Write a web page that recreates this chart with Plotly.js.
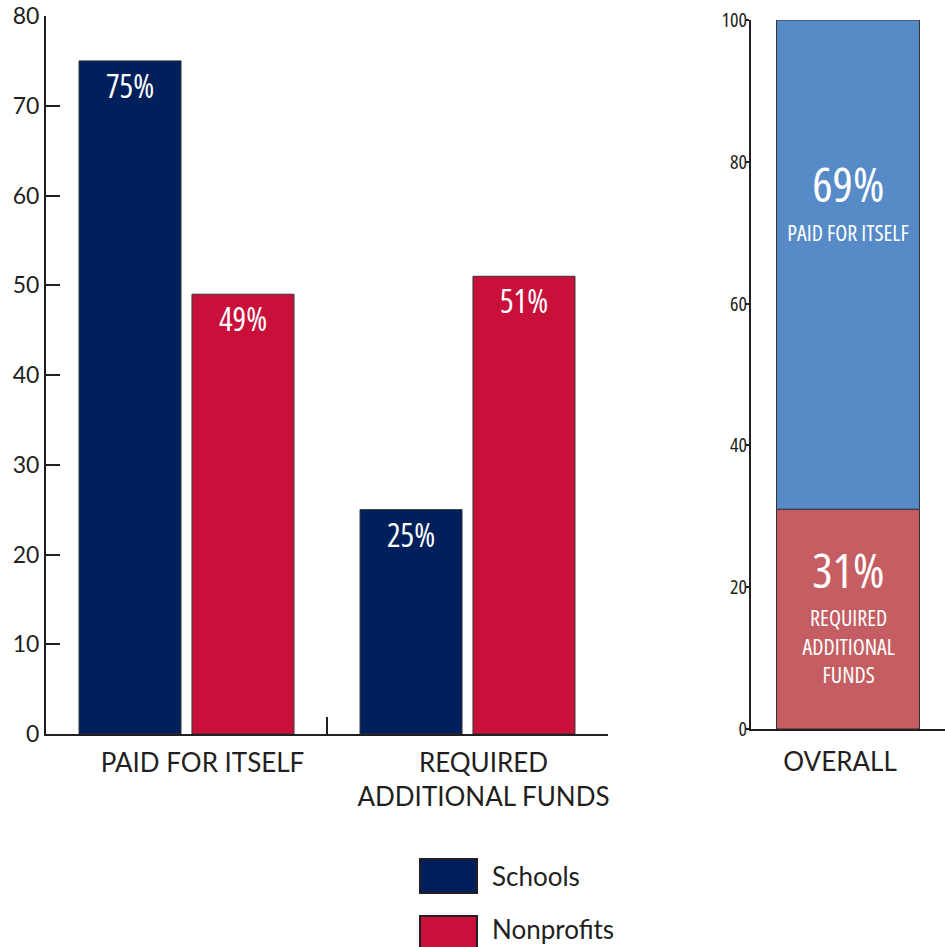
<!DOCTYPE html>
<html>
<head>
<meta charset="utf-8">
<script src="https://cdn.plot.ly/plotly-3.0.1.min.js"></script>
<style>
  html, body { margin: 0; padding: 0; background: #fff; }
  #chart { width: 945px; height: 947px; }
  /* condensed face for the in-bar labels and the right-hand tick labels */
  #chart text[style*="Open Sans"] { font-stretch: 75%; }
</style>
</head>
<body>
<div id="chart"></div>
<script>
// ---- data ----
const categories = ["PAID FOR ITSELF", "REQUIRED<br>ADDITIONAL FUNDS"];
const seriesNames = ["Schools", "Nonprofits"];
const schoolsValues = [75, 25];
const nonprofitsValues = [49, 51];
const overallCategory = ["OVERALL"];
const overallRequired = [31];
const overallPaid = [69];
const overallLabels = ["REQUIRED<br>ADDITIONAL<br>FUNDS", "PAID FOR ITSELF"];
const leftTicks = [0, 10, 20, 30, 40, 50, 60, 70, 80];
const rightTicks = [0, 20, 40, 60, 80, 100];

// ---- styles ----
const INK = "#231F20";
const NAVY = "#00205B";
const CRIMSON = "#C8103A";
const BLUE = "#568BC7";
const ROSE = "#C45E62";
const MAIN_FONT = "Lato, 'Noto Sans', sans-serif";
const NARROW_FONT = "'Open Sans', 'Liberation Sans Narrow', Roboto, sans-serif";
const seriesColors = [NAVY, CRIMSON];
const W = 945, H = 947;

const pct = v => v + "%";

const traces = [
  {
    type: "bar", name: seriesNames[0], x: categories, y: schoolsValues,
    xaxis: "x", yaxis: "y",
    marker: { color: seriesColors[0], line: { color: "#333", width: 1 } },
    text: schoolsValues.map(pct), textposition: "inside", insidetextanchor: "end",
    textangle: 0, textfont: { color: "#fff", family: NARROW_FONT, size: 32 },
    hoverinfo: "skip", showlegend: false
  },
  {
    type: "bar", name: seriesNames[1], x: categories, y: nonprofitsValues,
    xaxis: "x", yaxis: "y",
    marker: { color: seriesColors[1], line: { color: "#333", width: 1 } },
    text: nonprofitsValues.map(pct), textposition: "inside", insidetextanchor: "end",
    textangle: 0, textfont: { color: "#fff", family: NARROW_FONT, size: 32 },
    hoverinfo: "skip", showlegend: false
  },
  {
    type: "bar", name: "Required", x: overallCategory, y: overallRequired, base: [0],
    xaxis: "x2", yaxis: "y2", width: 0.737, offset: -0.3685,
    marker: { color: ROSE, line: { color: "#333", width: 1 } },
    hoverinfo: "skip", showlegend: false
  },
  {
    type: "bar", name: "Paid", x: overallCategory, y: overallPaid, base: overallRequired,
    xaxis: "x2", yaxis: "y2", width: 0.737, offset: -0.3685,
    marker: { color: BLUE, line: { color: "#333", width: 1 } },
    hoverinfo: "skip", showlegend: false
  }
];

const annotations = [
  { xref: "x2", yref: "y2", x: overallCategory[0], y: overallRequired[0] + overallPaid[0] * 0.665,
    text: pct(overallPaid[0]), showarrow: false,
    font: { family: NARROW_FONT, size: 48, color: "#fff" } },
  { xref: "x2", yref: "y2", x: overallCategory[0], y: overallRequired[0] + overallPaid[0] * 0.566,
    text: overallLabels[1], showarrow: false,
    font: { family: NARROW_FONT, size: 22, color: "#fff" } },
  { xref: "x2", yref: "y2", x: overallCategory[0], y: overallRequired[0] * 0.725,
    text: pct(overallRequired[0]), showarrow: false,
    font: { family: NARROW_FONT, size: 48, color: "#fff" } },
  { xref: "x2", yref: "y2", x: overallCategory[0], y: overallRequired[0] * 0.38,
    text: overallLabels[0], showarrow: false,
    font: { family: NARROW_FONT, size: 22, color: "#fff" } }
];

// custom legend (large swatches)
const shapes = [];
const legendTops = [859, 916];
const legendTextY = [876, 929];
seriesNames.forEach((name, i) => {
  const top = legendTops[i];
  shapes.push({
    type: "rect", xref: "paper", yref: "paper",
    x0: 420 / W, x1: 477 / W, y0: 1 - (top + 34) / H, y1: 1 - top / H,
    fillcolor: seriesColors[i], line: { color: INK, width: 2 }
  });
  annotations.push({
    xref: "paper", yref: "paper", x: 490 / W, y: 1 - legendTextY[i] / H,
    xanchor: "left", yanchor: "middle", text: name, showarrow: false,
    font: { family: MAIN_FONT, size: 26, color: INK }
  });
});

const layout = {
  width: W, height: H,
  margin: { l: 0, r: 0, t: 0, b: 0 },
  paper_bgcolor: "#fff", plot_bgcolor: "rgba(0,0,0,0)",
  barmode: "group", bargap: 0.196, bargroupgap: 0.097,
  showlegend: false,
  font: { family: MAIN_FONT, color: INK },
  xaxis: {
    domain: [46 / W, 608 / W], type: "category", range: [-0.5, 1.5],
    showline: true, linecolor: INK, linewidth: 2, showgrid: false, zeroline: false,
    tickson: "boundaries", ticks: "inside", ticklen: 17, tickwidth: 2, tickcolor: INK,
    tickfont: { family: MAIN_FONT, size: 26, color: INK },
    ticklabelshift: 16, ticklabelstandoff: 5, fixedrange: true
  },
  yaxis: {
    domain: [1 - 734 / H, 1 - 16 / H], range: [0, 80], tickvals: leftTicks,
    showline: true, linecolor: INK, linewidth: 2, showgrid: false, zeroline: false,
    ticks: "inside", ticklen: 14, tickwidth: 2, tickcolor: INK,
    tickfont: { family: MAIN_FONT, size: 23, color: INK }, fixedrange: true
  },
  xaxis2: {
    domain: [751 / W, 1], type: "category", range: [-0.5, 0.5], anchor: "y2",
    showline: true, linecolor: INK, linewidth: 2, showgrid: false, zeroline: false,
    ticks: "", tickfont: { family: MAIN_FONT, size: 26, color: INK },
    ticklabelshift: -8, ticklabelstandoff: 9, fixedrange: true
  },
  yaxis2: {
    domain: [1 - 729 / H, 1 - 20 / H], range: [0, 100], tickvals: rightTicks, anchor: "x2",
    showline: true, linecolor: INK, linewidth: 2, showgrid: false, zeroline: false,
    ticks: "outside", ticklen: 3, tickwidth: 2, tickcolor: INK,
    tickfont: { family: NARROW_FONT, size: 20, color: INK },
    ticklabelstandoff: -5, fixedrange: true
  },
  annotations: annotations,
  shapes: shapes
};

Plotly.newPlot("chart", traces, layout, { displayModeBar: false, staticPlot: true });
</script>
</body>
</html>
